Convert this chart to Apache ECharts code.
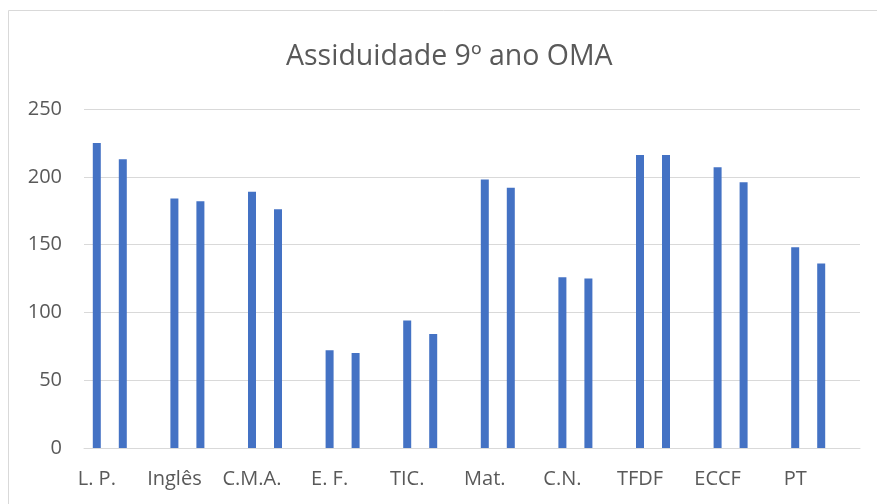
<!DOCTYPE html>
<html>
<head>
<meta charset="utf-8">
<script src="https://cdn.jsdelivr.net/npm/echarts@6/dist/echarts.min.js"></script>
<style>
	html, body { margin: 0; padding: 0; background: #fff; }
	#container { width: 877px; height: 504px; }
</style>
</head>
<body>
<div id="container"></div>
<script>
	// dados
	var categorias = ['L. P.', 'Inglês', 'C.M.A.', 'E. F.', 'TIC.', 'Mat.', 'C.N.', 'TFDF', 'ECCF', 'PT'];
	var serie1 = [225, 184, 189, 72, 94, 198, 126, 216, 207, 148];
	var serie2 = [213, 182, 176, 70, 84, 192, 125, 216, 196, 136];
	var yTicks = [0, 50, 100, 150, 200, 250];

	var fonte = 'Open Sans';
	var cinza = '#595959';

	var myChart = echarts.init(document.getElementById('container'));
	var option = {
		animation: false,
		graphic: [{
			type: 'rect',
			shape: { x: 8.5, y: 10.5, width: 900, height: 600 },
			style: { fill: 'none', stroke: '#d9d9d9', lineWidth: 1 },
			silent: true
		}],
		title: {
			text: 'Assiduidade 9º ano OMA',
			left: 281,
			top: 37,
			textStyle: { fontFamily: fonte, fontSize: 28.5, fontWeight: 'normal', color: cinza }
		},
		grid: {
			top: 109,
			left: 84,
			right: 17,
			bottom: 56
		},
		xAxis: {
			type: 'category',
			data: categorias,
			axisLine: { lineStyle: { color: '#d9d9d9', width: 1 } },
			axisTick: { show: false },
			axisLabel: {
				fontFamily: fonte,
				fontSize: 20,
				color: cinza,
				margin: 21,
				padding: [0, 52, 0, 0],
				interval: 0
			}
		},
		yAxis: {
			type: 'value',
			min: yTicks[0],
			max: yTicks[yTicks.length - 1],
			interval: yTicks[1] - yTicks[0],
			axisLine: { show: false },
			axisTick: { show: false },
			splitLine: { lineStyle: { color: '#d9d9d9', width: 1 } },
			axisLabel: { fontFamily: fonte, fontSize: 20, color: cinza, margin: 22 }
		},
		series: [{
			name: 'Série 1',
			type: 'bar',
			data: serie1,
			barWidth: 8,
			barGap: '225%',
			itemStyle: { color: '#4472c4' }
		}, {
			name: 'Série 2',
			type: 'bar',
			data: serie2,
			barWidth: 8,
			itemStyle: { color: '#4472c4' }
		}, {
			name: 'Série 3',
			type: 'bar',
			data: [],
			barWidth: 8
		}]
	};
	myChart.setOption(option);
</script>
</body>
</html>
